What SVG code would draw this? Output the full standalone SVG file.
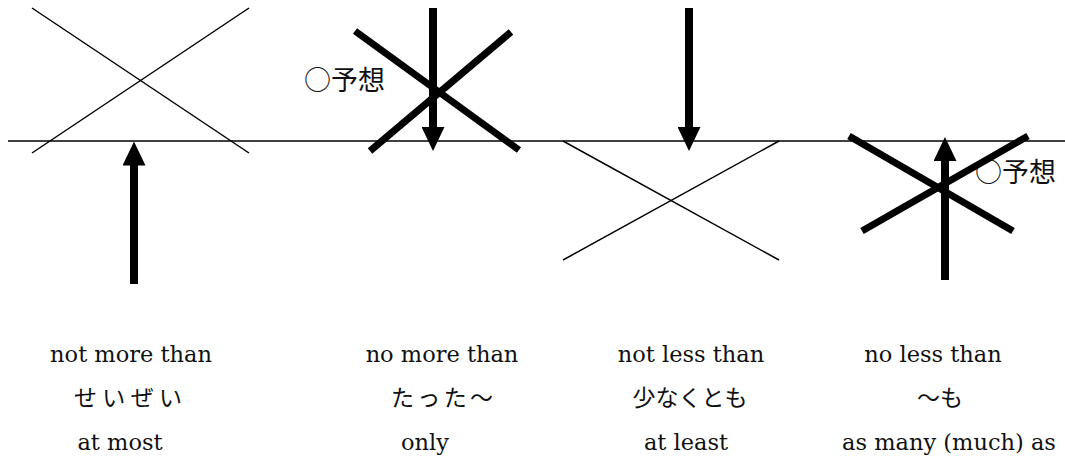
<svg xmlns="http://www.w3.org/2000/svg" width="1065" height="459" viewBox="0 0 1065 459">
<style>
.thin{stroke:#000;stroke-width:1.5;fill:none}
.thick{stroke:#000;stroke-width:7;fill:none}
.axis{stroke:#000;stroke-width:1.6;fill:none}
.arrow{stroke:#000;stroke-width:8;fill:none;marker-end:url(#head)}
.en{font-family:"DejaVu Serif","Liberation Serif",serif;font-size:22.5px;fill:#111;text-anchor:middle}
.ja{font-family:"Noto Sans CJK JP",sans-serif;font-size:23px;fill:#111;text-anchor:middle}
.lbl{font-family:"Noto Sans CJK JP",sans-serif;font-size:27px;fill:#111}
</style>
<defs>
<marker id="head" viewBox="0 0 24 23" markerWidth="24" markerHeight="23" refX="1" refY="11.5" orient="auto" markerUnits="userSpaceOnUse">
<path d="M0,0 L24,11.5 L0,23 z" fill="#000"/>
</marker>
</defs>
<rect width="1065" height="459" fill="#fff"/>
<line id="axis" class="axis" x1="8" y1="141" x2="1065" y2="141"/>
<g id="cross1">
<line class="thin" x1="32" y1="8" x2="249" y2="153"/>
<line class="thin" x1="32" y1="153" x2="249" y2="8"/>
</g>
<g id="label1"><text class="lbl" x="304" y="90">○予想</text></g>
<g id="cross2">
<line class="thick" x1="355" y1="31" x2="519" y2="150"/>
<line class="thick" x1="370" y1="151" x2="511" y2="32"/>
</g>
<g id="cross3">
<line class="thin" x1="563" y1="141" x2="779" y2="260"/>
<line class="thin" x1="563" y1="260" x2="779" y2="141"/>
</g>
<g id="label2"><text class="lbl" x="975" y="182">○予想</text></g>
<g id="cross4">
<line class="thick" x1="849" y1="136" x2="1013" y2="231"/>
<line class="thick" x1="862" y1="231" x2="1028" y2="136"/>
</g>
<g id="connectors">
<line class="arrow" x1="134" y1="284" x2="134" y2="164.5"/>
<line class="arrow" x1="433" y1="8" x2="433" y2="128"/>
<line class="arrow" x1="689" y1="8" x2="689" y2="128"/>
<line class="arrow" x1="945" y1="280" x2="945" y2="160"/>
</g>
<g id="col1">
<text class="en" x="131" y="362">not more than</text>
<text class="ja" x="128" y="406" textLength="108" lengthAdjust="spacing">せいぜい</text>
<text class="en" x="120" y="450">at most</text>
</g>
<g id="col2">
<text class="en" x="442" y="362">no more than</text>
<text class="ja" x="442" y="406" textLength="102" lengthAdjust="spacing">たった〜</text>
<text class="en" x="425" y="450">only</text>
</g>
<g id="col3">
<text class="en" x="691" y="362">not less than</text>
<text class="ja" x="690" y="406">少なくとも</text>
<text class="en" x="686" y="450">at least</text>
</g>
<g id="col4">
<text class="en" x="933" y="362">no less than</text>
<text class="ja" x="940" y="406">〜も</text>
<text class="en" x="949" y="450">as many (much) as</text>
</g>
</svg>
